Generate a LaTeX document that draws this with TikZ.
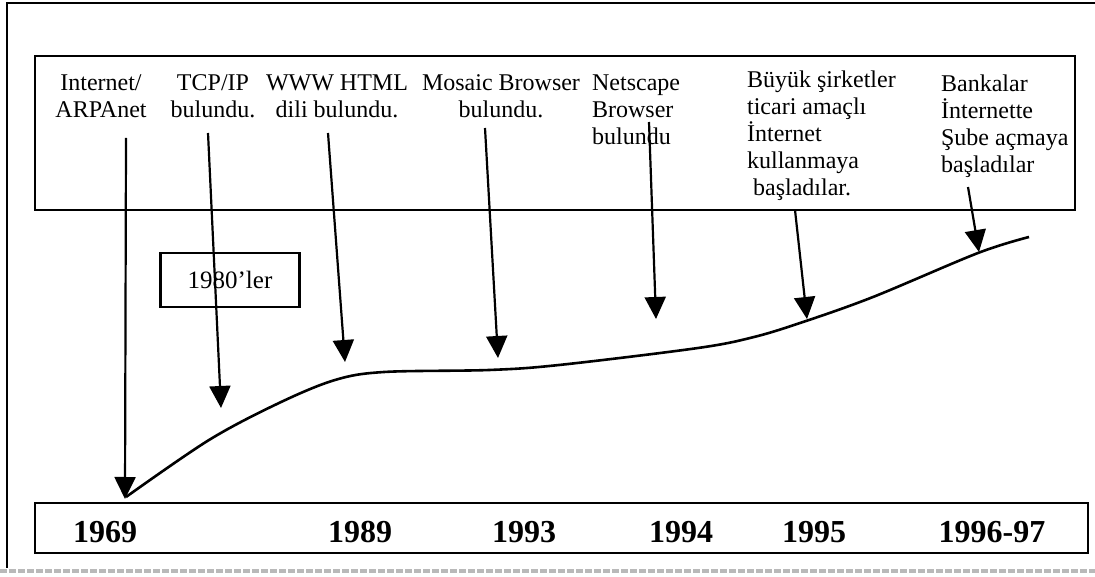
\documentclass[tikz,border=0pt]{standalone}
\usepackage{fontspec}
\setmainfont{Liberation Serif}
\usetikzlibrary{arrows.meta}

\begin{document}
\begin{tikzpicture}[x=1pt,y=-1pt,line width=2.2pt,
    lbl/.style={align=center,anchor=north,inner sep=0pt,font=\fontsize{24}{27}\selectfont},
    lbll/.style={lbl,align=left,anchor=north west},
    yr/.style={inner sep=0pt,font=\fontsize{32}{32}\selectfont\bfseries},
    pin/.style={-{Triangle[width=21pt,length=22pt]},line width=2.2pt}]
\useasboundingbox (0,0) rectangle (1095,577);
% frame
\draw[line width=1.6pt] (1095,3) -- (7,3) -- (7,568);
\draw[gray!55,line width=4pt,dash pattern=on 7pt off 2pt] (0,571) -- (1095,571);
\draw (35,56) rectangle (1075,210);
\draw (35,503) rectangle (1088,553);
% events
\path
      (101,74) node [lbl]  (arpa)    {Internet/\\ARPAnet}
      (213,74) node [lbl]  (tcpip)   {TCP/IP\\bulundu.}
      (337,74) node [lbl]  (www)     {WWW HTML\\dili bulundu.}
      (501,74) node [lbl]  (mosaic)  {Mosaic Browser\\bulundu.}
      (591,74) node [lbll] (netscape){Netscape\\Browser\\bulundu}
      (746,70) node [lbll] (sirket)  {Büyük şirketler\\ticari amaçlı\\İnternet\\kullanmaya\\\ başladılar.}
      (940,74) node [lbll] (banka)   {Bankalar\\İnternette\\Şube açmaya\\başladılar};
\node [draw,inner sep=0pt,minimum width=139pt,minimum height=54pt,
       font=\fontsize{25}{27}\selectfont] (dec) at (230,280) {1980'ler};
% years
\path
      (105,532) node [yr] (y69) {1969}
      (360,532) node [yr] (y89) {1989}
      (524,532) node [yr] (y93) {1993}
      (681,532) node [yr] (y94) {1994}
      (814,532) node [yr] (y95) {1995}
      (992,532) node [yr] (y96) {1996-97};
% growth curve
\draw[line width=2.6pt] plot[smooth,tension=0.55] coordinates {
      (126,497) (209,440) (279,403) (335,380) (384,372) (489,370)
      (559,365) (698,348) (754,337) (803,322) (873,297) (978,253)
      (1029,237)};
% arrows
\coordinate (s1) at (126,138);  \coordinate (t1) at (125,499);
\coordinate (s2) at (208,133);  \coordinate (t2) at (221,408);
\coordinate (s3) at (328,133);  \coordinate (t3) at (345,362);
\coordinate (s4) at (485,128);  \coordinate (t4) at (498,358);
\coordinate (s5) at (649,122);  \coordinate (t5) at (656,319);
\coordinate (s6) at (795,210);  \coordinate (t6) at (807,319);
\coordinate (s7) at (968,187);  \coordinate (t7) at (979,252);
\foreach \i in {1,...,7}
  \draw[pin] (s\i) -- (t\i);
\end{tikzpicture}
\end{document}
